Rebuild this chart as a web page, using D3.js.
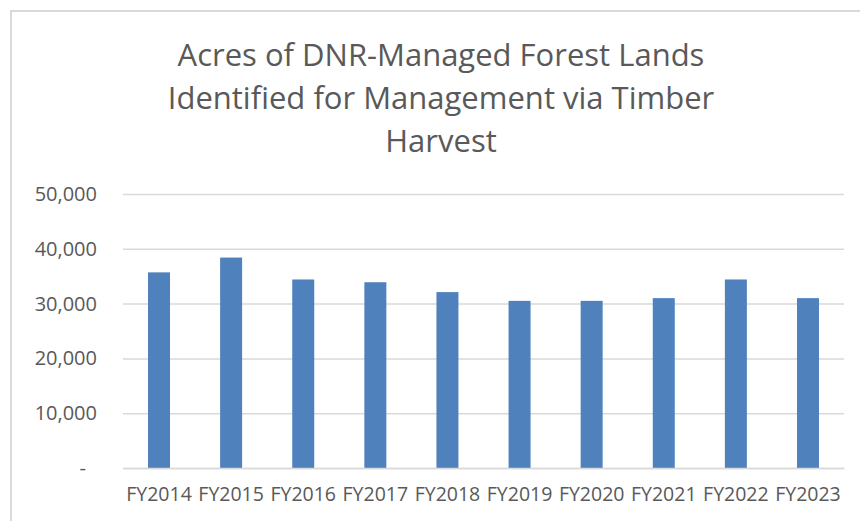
<!DOCTYPE html>
<html>
<head>
<meta charset="utf-8">
<script src="https://cdn.jsdelivr.net/npm/d3@7/dist/d3.min.js"></script>
<style>
  body { margin: 0; background: #fff; }
  .tick text { font-family: "Open Sans", sans-serif; fill: #595959; }
</style>
</head>
<body>
<div id="chart"></div>
<script>
// data
const years = ["FY2014","FY2015","FY2016","FY2017","FY2018","FY2019","FY2020","FY2021","FY2022","FY2023"];
const acres = [35700, 38400, 34400, 33900, 32100, 30500, 30500, 31000, 34400, 31000];
const yTicks = [0, 10000, 20000, 30000, 40000, 50000];
const titleLines = ["Acres of DNR-Managed Forest Lands", "Identified for Management via Timber", "Harvest"];

const width = 860, height = 521;
const margin = { top: 194, right: 16, bottom: 53, left: 123 };
const innerWidth = width - margin.left - margin.right;
const innerHeight = height - margin.top - margin.bottom;

const svg = d3.select("#chart").append("svg")
  .attr("width", width)
  .attr("height", height);

// chart area border: only top and left edges are visible in the picture
svg.append("path")
  .attr("d", `M11,${height} V11 H${width}`)
  .attr("fill", "none")
  .attr("stroke", "#d9d9d9")
  .attr("stroke-width", 2);

// title
svg.append("g")
  .selectAll("text")
  .data(titleLines)
  .join("text")
  .attr("x", 441)
  .attr("y", (d, i) => 66 + i * 43)
  .attr("text-anchor", "middle")
  .attr("font-family", "Open Sans, sans-serif")
  .attr("font-size", 31)
  .attr("fill", "#595959")
  .text(d => d);

const g = svg.append("g")
  .attr("transform", `translate(${margin.left}, ${margin.top})`);

const x = d3.scaleBand()
  .domain(years)
  .range([0, innerWidth])
  .paddingInner(0.695)
  .paddingOuter(0.347);

const y = d3.scaleLinear()
  .domain([0, 50000])
  .range([innerHeight, 0]);

// horizontal grid
const grid = g.append("g")
  .attr("class", "grid")
  .call(d3.axisLeft(y).tickValues(yTicks).tickSize(-innerWidth).tickFormat(""));
grid.select(".domain").remove();
grid.selectAll("text").remove();
grid.selectAll("line")
  .attr("stroke", "#d9d9d9")
  .attr("stroke-width", 1.5);

// y axis labels (zero shown as a dash, like the accounting format)
const yAxis = g.append("g")
  .call(d3.axisLeft(y).tickValues(yTicks).tickSize(0).tickPadding(26)
    .tickFormat(d => d === 0 ? "-" : d3.format(",")(d)));
yAxis.select(".domain").remove();
yAxis.selectAll("text").attr("font-size", 20);
yAxis.selectAll(".tick").filter(d => d === 0).select("text").attr("dx", -11);

// bars
g.selectAll("rect.bar")
  .data(acres)
  .join("rect")
  .attr("class", "bar")
  .attr("x", (d, i) => x(years[i]))
  .attr("y", d => y(d))
  .attr("width", x.bandwidth())
  .attr("height", d => innerHeight - y(d))
  .attr("fill", "#4f81bd");

// x axis
const xAxis = g.append("g")
  .attr("transform", `translate(0, ${innerHeight})`)
  .call(d3.axisBottom(x).tickSize(0).tickPadding(19));
xAxis.select(".domain").attr("stroke", "#d9d9d9").attr("stroke-width", 1.5);
xAxis.selectAll("text").attr("font-size", 19.5);
</script>
</body>
</html>
